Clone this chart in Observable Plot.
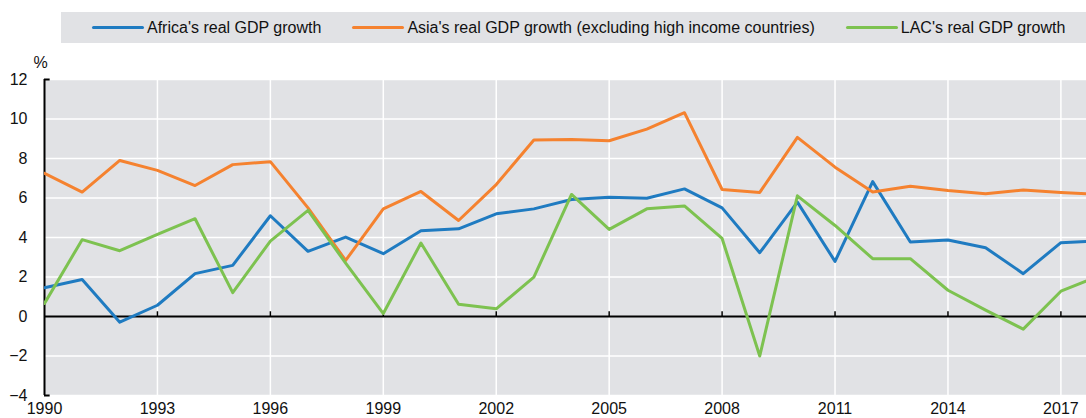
<!DOCTYPE html>
<html>
<head>
<meta charset="utf-8">
<script src="https://cdn.jsdelivr.net/npm/d3@7"></script>
<script src="https://cdn.jsdelivr.net/npm/@observablehq/plot@0.6"></script>
<style>
  html, body { margin: 0; padding: 0; background: white; overflow: hidden; }
  body { width: 1086px; height: 418px; font-family: "Liberation Sans", Arial, sans-serif; }
  #legend {
    margin: 12px 0 0 61px; height: 31px; width: 1025px; background: #e1e2e5;
    display: flex; align-items: center; padding-left: 31px; box-sizing: border-box;
    font-size: 16px; color: #111; white-space: nowrap;
  }
  .item { display: flex; align-items: center; margin-right: 31px; }
  .sw { width: 52px; height: 3.5px; border-radius: 2px; margin-right: 3px; }
  #chart svg { display: block; }
</style>
</head>
<body>
<div id="legend"></div>
<div id="chart"></div>
<script>
const years = d3.range(1990, 2019);
const africa = [1.46,1.87,-0.29,0.57,2.17,2.59,5.1,3.3,4.02,3.18,4.34,4.44,5.2,5.45,5.92,6.04,5.99,6.46,5.5,3.23,5.79,2.79,6.83,3.77,3.87,3.48,2.17,3.74,3.83];
const asia = [7.25,6.3,7.9,7.4,6.63,7.69,7.84,5.5,2.84,5.45,6.33,4.86,6.68,8.94,8.96,8.9,9.49,10.32,6.43,6.28,9.07,7.56,6.3,6.6,6.38,6.21,6.41,6.28,6.18];
const lac = [0.66,3.89,3.33,4.16,4.95,1.21,3.82,5.37,2.7,0.15,3.72,0.62,0.39,1.99,6.18,4.41,5.45,5.6,3.95,-2.0,6.11,4.61,2.93,2.93,1.33,0.32,-0.64,1.28,2.04];
const seriesNames = ["Africa's real GDP growth", "Asia's real GDP growth (excluding high income countries)", "LAC's real GDP growth"];
const seriesColors = ["#1f7bc1", "#f5822f", "#7dc250"];
const xTicks = [1990,1993,1996,1999,2002,2005,2008,2011,2014,2017];
const yTicks = [-4,-2,0,2,4,6,8,10,12];

const legend = document.getElementById("legend");
seriesNames.forEach((n, i) => {
  const it = document.createElement("div"); it.className = "item";
  const sw = document.createElement("div"); sw.className = "sw"; sw.style.background = seriesColors[i];
  const t = document.createElement("span"); t.textContent = n;
  it.appendChild(sw); it.appendChild(t); legend.appendChild(it);
});

const allSeries = [africa, asia, lac];
const rows = [];
allSeries.forEach((vals, i) => vals.forEach((v, j) => rows.push({year: years[j], value: v, series: seriesNames[i]})));

const chart = Plot.plot({
  width: 1086, height: 375,
  marginLeft: 44, marginRight: 0, marginTop: 36, marginBottom: 23,
  style: {fontSize: "16px", fontFamily: "'Liberation Sans', Arial, sans-serif", color: "#111", background: "white"},
  x: {domain: [1990, 2017.68]},
  y: {domain: [-4, 12]},
  color: {domain: seriesNames, range: seriesColors},
  marks: [
    Plot.frame({fill: "#e1e2e5", stroke: "none"}),
    Plot.ruleY(yTicks.filter(d => d !== 0), {stroke: "white", strokeWidth: 1.5}),
    Plot.ruleX(xTicks.slice(1), {stroke: "white", strokeWidth: 1.5}),
    Plot.ruleY([0], {stroke: "#000", strokeWidth: 2}),
    Plot.ruleX(xTicks.slice(1), {y1: 0, y2: 0.24, stroke: "#000", strokeWidth: 1.5}),
    Plot.ruleX([1990], {stroke: "#000", strokeWidth: 2}),
    Plot.ruleY([12, -4], {x1: 1990, x2: 1990.15, stroke: "#000", strokeWidth: 2}),
    Plot.line(rows, {x: "year", y: "value", z: "series", stroke: "series", strokeWidth: 3, clip: true}),
    Plot.axisX({ticks: xTicks, tickSize: 0, tickPadding: 7, tickFormat: d => String(d), label: null}),
    Plot.axisY({ticks: yTicks, tickSize: 0, tickPadding: 17, label: null}),
    Plot.text(["%"], {frameAnchor: "top-left", dx: -4, dy: -23, textAnchor: "middle"})
  ]
});
document.getElementById("chart").appendChild(chart);
</script>
</body>
</html>
